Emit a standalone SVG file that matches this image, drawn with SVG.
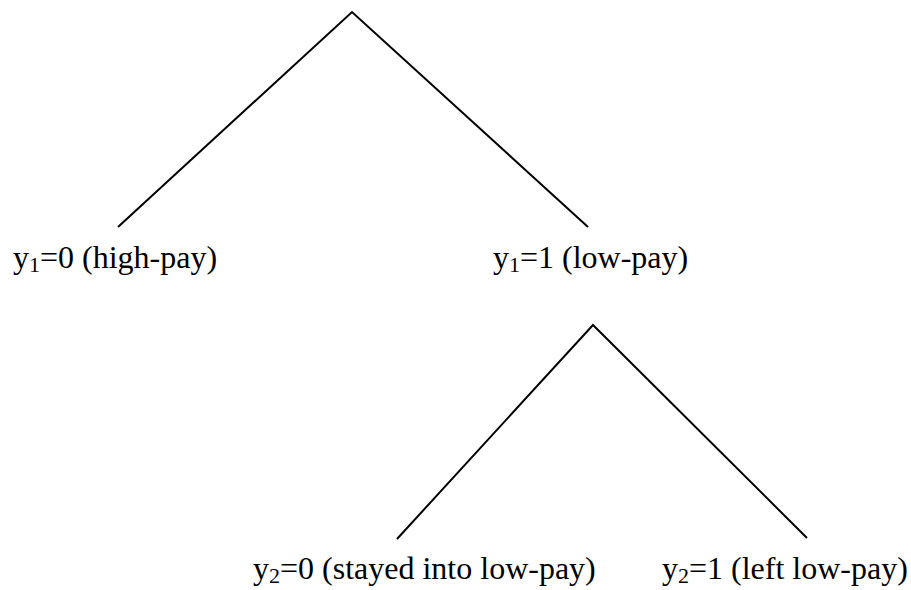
<svg xmlns="http://www.w3.org/2000/svg" width="911" height="590" viewBox="0 0 911 590">
<style>
.edge{stroke:#000;stroke-width:2;fill:none}
text{font-family:'Liberation Serif','Times New Roman',serif;font-size:32px;fill:#000}
.sub{font-size:22px}
</style>
<rect width="911" height="590" fill="#fff"/>
<g id="connectors">
<path class="edge" d="M118,227 L352,12 L588,227"/>
<path class="edge" d="M397,539 L593,325 L807,538"/>
</g>
<g id="node-y1-0"><text x="13" y="268">y<tspan class="sub" dy="4">1</tspan><tspan dy="-4">=0 (high-pay)</tspan></text></g>
<g id="node-y1-1"><text x="493" y="268">y<tspan class="sub" dy="4">1</tspan><tspan dy="-4">=1 (low-pay)</tspan></text></g>
<g id="node-y2-0"><text x="253" y="579">y<tspan class="sub" dy="4">2</tspan><tspan dy="-4">=0 (stayed into low-pay)</tspan></text></g>
<g id="node-y2-1"><text x="662" y="579">y<tspan class="sub" dy="4">2</tspan><tspan dy="-4">=1 (left low-pay)</tspan></text></g>
</svg>
